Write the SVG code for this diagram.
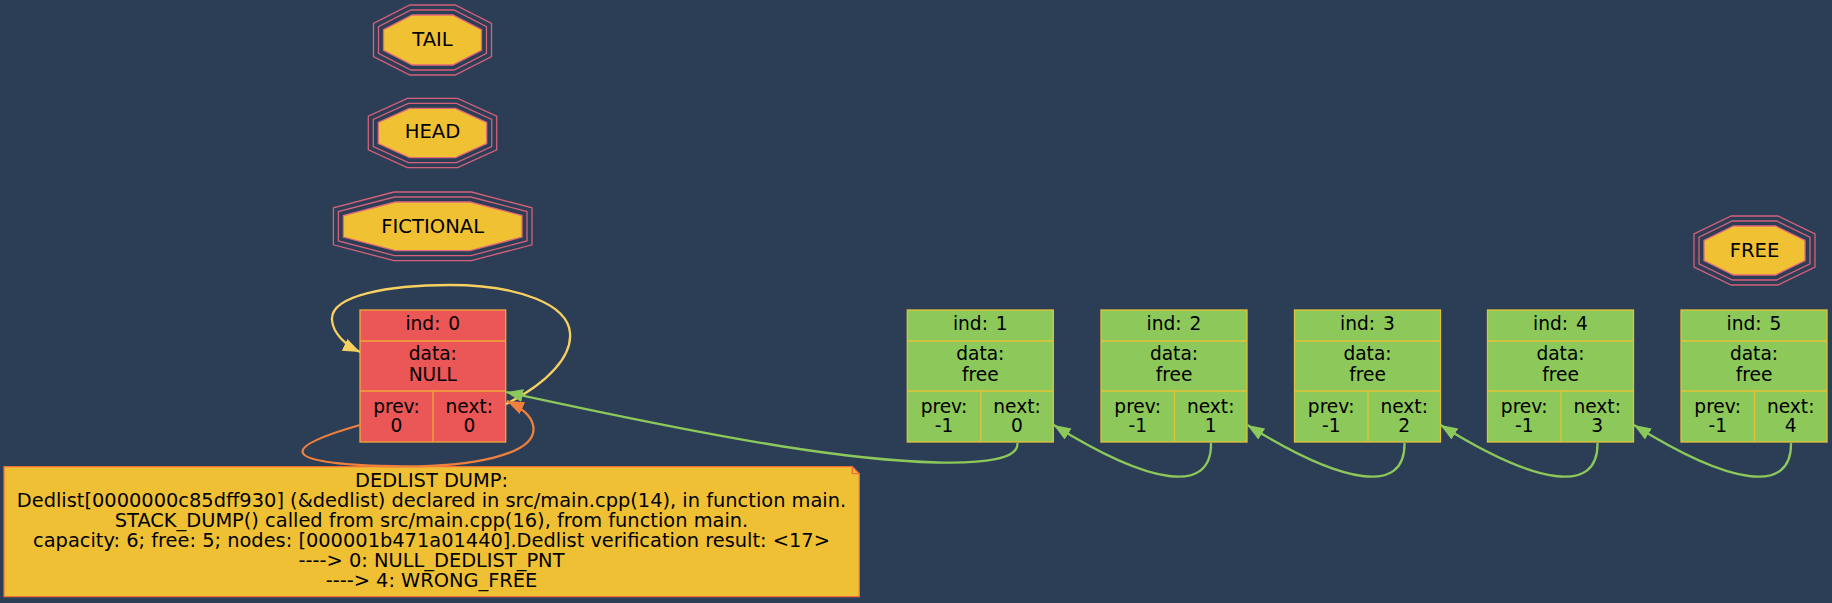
<svg xmlns="http://www.w3.org/2000/svg" width="1832" height="603" viewBox="0 0 1832 603">
<style>
.t{font-family:"DejaVu Sans",Verdana,sans-serif;font-size:18.6px;text-anchor:middle;fill:#000}
.w{word-spacing:2px}
.ot{font-family:"DejaVu Sans",Verdana,sans-serif;font-size:19.6px;text-anchor:middle;fill:#000}
.nt{font-family:"DejaVu Sans",Verdana,sans-serif;font-size:19.4px;text-anchor:middle;fill:#000}
.per{fill:none;stroke:#d4607a;stroke-width:1.3}
.octf{fill:#f0c132;stroke:#e0687a;stroke-width:1.3}
.red{fill:#eb5656;stroke:#f2a83a;stroke-width:1.3}
.grn{fill:#8cc85a;stroke:#e3c23a;stroke-width:1.3}
.redl{stroke:#f2a83a;stroke-width:1.3;fill:none}
.grnl{stroke:#e3c23a;stroke-width:1.3;fill:none}
.e{fill:none;stroke-width:2.3}
</style>
<defs>
<marker id="ag" markerUnits="userSpaceOnUse" markerWidth="18" markerHeight="14" refX="17" refY="6.5" orient="auto"><path d="M0,0 L17,6.5 L0,13 z" fill="#8cc85a"/></marker>
<marker id="ay" markerUnits="userSpaceOnUse" markerWidth="18" markerHeight="14" refX="17" refY="6.5" orient="auto"><path d="M0,0 L17,6.5 L0,13 z" fill="#f8d060"/></marker>
<marker id="ao" markerUnits="userSpaceOnUse" markerWidth="18" markerHeight="14" refX="17" refY="6.5" orient="auto"><path d="M0,0 L17,6.5 L0,13 z" fill="#f0803c"/></marker>
</defs>
<rect width="1832" height="603" fill="#2c3e56"/>

<g id="tail">
<polygon class="per" points="409.8,5 455.2,5 491.5,23.5 491.5,56.5 455.2,75 409.8,75 373.5,56.5 373.5,23.5"/>
<polygon class="per" points="411,10 454,10 486.5,26.6 486.5,53.4 454,70 411,70 378.5,53.4 378.5,26.6"/>
<polygon class="octf" points="412.2,15 452.8,15 481.5,29.65 481.5,50.35 452.8,65 412.2,65 383.5,50.35 383.5,29.65"/>
<text class="ot" x="432.5" y="45.5">TAIL</text>
</g>
<g id="head">
<polygon class="per" points="407.3,98.3 457.7,98.3 496.7,116.1 496.7,149.9 457.7,167.7 407.3,167.7 368.3,149.9 368.3,116.1"/>
<polygon class="per" points="408.4,103.3 456.6,103.3 491.7,119.3 491.7,146.7 456.6,162.7 408.4,162.7 373.3,146.7 373.3,119.3"/>
<polygon class="octf" points="409.5,108.3 455.5,108.3 486.7,122.5 486.7,143.5 455.5,157.7 409.5,157.7 378.3,143.5 378.3,122.5"/>
<text class="ot" x="432.5" y="137.8">HEAD</text>
</g>
<g id="fictional">
<polygon class="per" points="393.9,192 471.5,192 532,207.8 532,244.8 471.5,260.6 393.9,260.6 333.4,244.8 333.4,207.8"/>
<polygon class="per" points="394.6,197 470.8,197 527,211.6 527,241 470.8,255.6 394.6,255.6 338.4,241 338.4,211.6"/>
<polygon class="octf" points="395.2,202 470.2,202 522,215.5 522,237.1 470.2,250.6 395.2,250.6 343.4,237.1 343.4,215.5"/>
<text class="ot" x="432.7" y="232.8">FICTIONAL</text>
</g>
<g id="free">
<polygon class="per" points="1731.2,216 1777.8,216 1815,234 1815,267 1777.8,285 1731.2,285 1694,267 1694,234"/>
<polygon class="per" points="1732.4,221 1776.6,221 1810,237.2 1810,263.8 1776.6,280 1732.4,280 1699,263.8 1699,237.2"/>
<polygon class="octf" points="1733.5,226 1775.5,226 1805,240.3 1805,260.7 1775.5,275 1733.5,275 1704,260.7 1704,240.3"/>
<text class="ot" x="1754.5" y="256.5">FREE</text>
</g>

<g id="node0" transform="translate(360,0)">
<rect class="red" x="0" y="310" width="145.7" height="132"/>
<path class="redl" d="M0,341H145.7M0,391H145.7M73,391V442"/>
<text class="t w" x="72.8" y="330">ind: 0</text>
<text class="t" x="72.8" y="360">data:</text>
<text class="t" x="72.8" y="380.5">NULL</text>
<text class="t" x="36.5" y="412.5">prev:</text>
<text class="t" x="36.5" y="431.5">0</text>
<text class="t" x="109.3" y="412.5">next:</text>
<text class="t" x="109.3" y="431.5">0</text>
</g>
<g id="node1" transform="translate(907.3,0)">
<rect class="grn" x="0" y="310" width="146" height="132"/>
<path class="grnl" d="M0,341H146M0,391H146M73.5,391V442"/>
<text class="t w" x="73" y="330">ind: 1</text>
<text class="t" x="73" y="360">data:</text>
<text class="t" x="73" y="380.5">free</text>
<text class="t" x="36.7" y="412.5">prev:</text>
<text class="t" x="36.7" y="432">-1</text>
<text class="t" x="109.7" y="412.5">next:</text>
<text class="t" x="109.7" y="432">0</text>
</g>
<g id="node2" transform="translate(1101,0)">
<rect class="grn" x="0" y="310" width="146" height="132"/>
<path class="grnl" d="M0,341H146M0,391H146M73.5,391V442"/>
<text class="t w" x="73" y="330">ind: 2</text>
<text class="t" x="73" y="360">data:</text>
<text class="t" x="73" y="380.5">free</text>
<text class="t" x="36.7" y="412.5">prev:</text>
<text class="t" x="36.7" y="432">-1</text>
<text class="t" x="109.7" y="412.5">next:</text>
<text class="t" x="109.7" y="432">1</text>
</g>
<g id="node3" transform="translate(1294.5,0)">
<rect class="grn" x="0" y="310" width="146" height="132"/>
<path class="grnl" d="M0,341H146M0,391H146M73.5,391V442"/>
<text class="t w" x="73" y="330">ind: 3</text>
<text class="t" x="73" y="360">data:</text>
<text class="t" x="73" y="380.5">free</text>
<text class="t" x="36.7" y="412.5">prev:</text>
<text class="t" x="36.7" y="432">-1</text>
<text class="t" x="109.7" y="412.5">next:</text>
<text class="t" x="109.7" y="432">2</text>
</g>
<g id="node4" transform="translate(1487.5,0)">
<rect class="grn" x="0" y="310" width="146" height="132"/>
<path class="grnl" d="M0,341H146M0,391H146M73.5,391V442"/>
<text class="t w" x="73" y="330">ind: 4</text>
<text class="t" x="73" y="360">data:</text>
<text class="t" x="73" y="380.5">free</text>
<text class="t" x="36.7" y="412.5">prev:</text>
<text class="t" x="36.7" y="432">-1</text>
<text class="t" x="109.7" y="412.5">next:</text>
<text class="t" x="109.7" y="432">3</text>
</g>
<g id="node5" transform="translate(1681,0)">
<rect class="grn" x="0" y="310" width="146" height="132"/>
<path class="grnl" d="M0,341H146M0,391H146M73.5,391V442"/>
<text class="t w" x="73" y="330">ind: 5</text>
<text class="t" x="73" y="360">data:</text>
<text class="t" x="73" y="380.5">free</text>
<text class="t" x="36.7" y="412.5">prev:</text>
<text class="t" x="36.7" y="432">-1</text>
<text class="t" x="109.7" y="412.5">next:</text>
<text class="t" x="109.7" y="432">4</text>
</g>

<g id="note">
<polygon points="4,466.7 852.3,466.7 859.3,473.7 859.3,596.7 4,596.7" fill="#efc033" stroke="#ec6f3c" stroke-width="1.3"/>
<polyline points="852.3,466.7 852.3,473.7 859.3,473.7" fill="none" stroke="#ec6f3c" stroke-width="1.3"/>
<text class="nt" x="431.5" y="487">DEDLIST DUMP:</text>
<text class="nt" x="431.5" y="507">Dedlist[0000000c85dff930] (&amp;dedlist) declared in src/main.cpp(14), in function main.</text>
<text class="nt" x="431.5" y="527">STACK_DUMP() called from src/main.cpp(16), from function main.</text>
<text class="nt" x="431.5" y="547">capacity: 6; free: 5; nodes: [000001b471a01440].Dedlist verification result: &lt;17&gt;</text>
<text class="nt" x="431.5" y="567">----&gt; 0: NULL_DEDLIST_PNT</text>
<text class="nt" x="431.5" y="587">----&gt; 4: WRONG_FREE</text>
</g>

<g id="edges">
<path class="e" stroke="#f8d060" marker-end="url(#ay)" d="M506,404 C550,382 572,355 570,333 C568,305 520,285 450,285 C390,285 330,295 332,320 C333,333 345,345 360,352"/>
<path class="e" stroke="#f0803c" marker-end="url(#ao)" d="M360,425 C290,445 270,462 380,466 C470,469 540,455 533,425 C531,415 520,407 507,401"/>
<path class="e" stroke="#8cc85a" marker-end="url(#ag)" d="M1017.5,443 C1020,475 880,462 780,446 C680,430 580,408 506,392"/>
<path class="e" stroke="#8cc85a" marker-end="url(#ag)" d="M1211,443 C1212,495 1150,485 1053.7,425"/>
<path class="e" stroke="#8cc85a" marker-end="url(#ag)" d="M1404.5,443 C1405.5,495 1343.5,485 1247.3,425"/>
<path class="e" stroke="#8cc85a" marker-end="url(#ag)" d="M1597.5,443 C1598.5,495 1536.5,485 1440.5,425"/>
<path class="e" stroke="#8cc85a" marker-end="url(#ag)" d="M1791,443 C1792,495 1730,485 1634,425"/>
</g>
</svg>
